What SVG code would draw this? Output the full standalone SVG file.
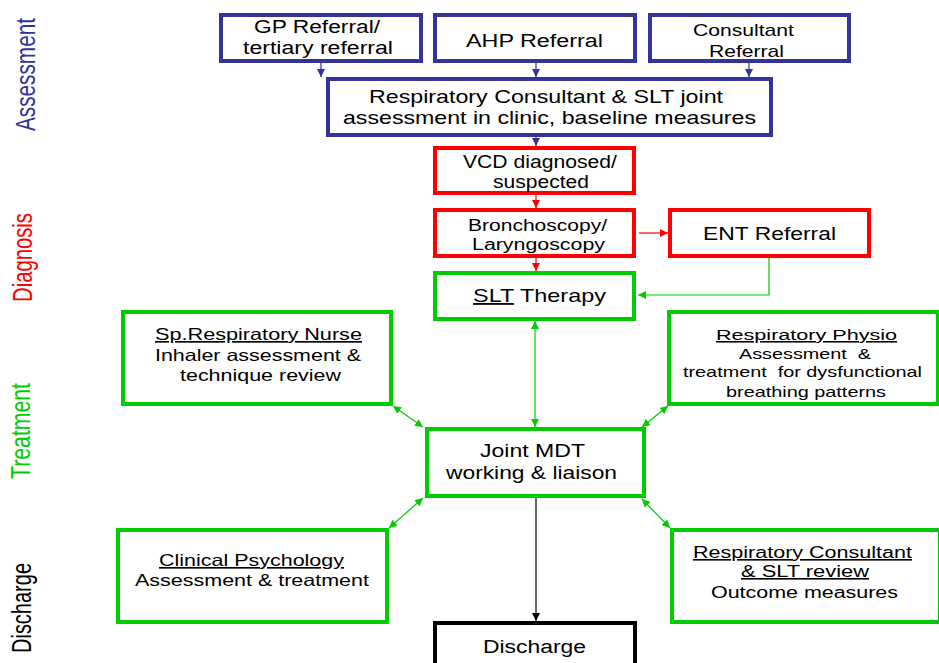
<svg xmlns="http://www.w3.org/2000/svg" width="939" height="663" viewBox="0 0 939 663">
<style>
text{font-family:"Liberation Sans",Arial,sans-serif;fill:#000;}
.b{fill:#fff;stroke-width:4;}
.blue{stroke:#333399;}
.red{stroke:#ff0000;}
.green{stroke:#00cc00;}
.black{stroke:#000;}
.c{fill:none;stroke-width:1.2;}
.u{text-decoration:underline;}
.side{font-size:21px;}
</style>
<defs>
<marker id="ab" markerUnits="userSpaceOnUse" markerWidth="8" markerHeight="8" refX="8" refY="4" orient="auto-start-reverse"><path d="M0,0 L8,4 L0,8 z" fill="#333399"/></marker>
<marker id="ar" markerUnits="userSpaceOnUse" markerWidth="8" markerHeight="8" refX="8" refY="4" orient="auto-start-reverse"><path d="M0,0 L8,4 L0,8 z" fill="#ff0000"/></marker>
<marker id="ag" markerUnits="userSpaceOnUse" markerWidth="8" markerHeight="8" refX="8" refY="4" orient="auto-start-reverse"><path d="M0,0 L8,4 L0,8 z" fill="#00cc00"/></marker>
<marker id="ak" markerUnits="userSpaceOnUse" markerWidth="8" markerHeight="8" refX="8" refY="4" orient="auto-start-reverse"><path d="M0,0 L8,4 L0,8 z" fill="#000"/></marker>
</defs>
<rect width="939" height="663" fill="#fff"/>

<g id="stage-labels">
<text class="side" fill="#333399" style="fill:#333399" transform="translate(35,131) scale(1.28,1) rotate(-90)" textLength="113" lengthAdjust="spacingAndGlyphs">Assessment</text>
<text class="side" style="fill:#ff0000" transform="translate(32,302) scale(1.28,1) rotate(-90)" textLength="89" lengthAdjust="spacingAndGlyphs">Diagnosis</text>
<text class="side" style="fill:#00cc00" transform="translate(30,479) scale(1.28,1) rotate(-90)" textLength="96" lengthAdjust="spacingAndGlyphs">Treatment</text>
<text class="side" transform="translate(31,653) scale(1.28,1) rotate(-90)" textLength="90" lengthAdjust="spacingAndGlyphs">Discharge</text>
</g>

<g id="connectors">
<line class="c blue" x1="321" y1="63" x2="321" y2="77" marker-end="url(#ab)"/>
<line class="c blue" x1="536" y1="63" x2="536" y2="77" marker-end="url(#ab)"/>
<line class="c blue" x1="749" y1="63" x2="749" y2="77" marker-end="url(#ab)"/>
<line class="c blue" x1="536" y1="137" x2="536" y2="146" marker-end="url(#ab)"/>
<line class="c red" x1="536" y1="195" x2="536" y2="208" marker-end="url(#ar)"/>
<line class="c red" x1="536" y1="258" x2="536" y2="271" marker-end="url(#ar)"/>
<line class="c red" x1="639" y1="233" x2="668" y2="233" marker-end="url(#ar)"/>
<polyline class="c green" points="769,258 769,295 638,295" marker-end="url(#ag)"/>
<line class="c green" x1="535" y1="321" x2="535" y2="427" marker-start="url(#ag)" marker-end="url(#ag)"/>
<line class="c green" x1="393" y1="406" x2="423" y2="427" marker-start="url(#ag)" marker-end="url(#ag)"/>
<line class="c green" x1="668" y1="406" x2="642" y2="427" marker-start="url(#ag)" marker-end="url(#ag)"/>
<line class="c green" x1="389" y1="528" x2="423" y2="498" marker-start="url(#ag)" marker-end="url(#ag)"/>
<line class="c green" x1="642" y1="499" x2="670" y2="528" marker-start="url(#ag)" marker-end="url(#ag)"/>
<line class="c black" x1="536" y1="498" x2="536" y2="621" marker-end="url(#ak)"/>
</g>

<g id="gp-referral">
<rect class="b blue" x="221" y="15" width="200" height="46"/>
<text x="254" y="33" font-size="18" textLength="126" lengthAdjust="spacingAndGlyphs">GP Referral/</text>
<text x="243" y="54" font-size="18" textLength="150" lengthAdjust="spacingAndGlyphs">tertiary referral</text>
</g>
<g id="ahp-referral">
<rect class="b blue" x="435" y="15" width="200" height="46"/>
<text x="466" y="47" font-size="18" textLength="137" lengthAdjust="spacingAndGlyphs">AHP Referral</text>
</g>
<g id="consultant-referral">
<rect class="b blue" x="650" y="15" width="199" height="46"/>
<text x="693" y="36" font-size="17" textLength="101" lengthAdjust="spacingAndGlyphs">Consultant</text>
<text x="709" y="57" font-size="17" textLength="75" lengthAdjust="spacingAndGlyphs">Referral</text>
</g>
<g id="joint-assessment">
<rect class="b blue" x="328" y="79" width="443" height="56"/>
<text x="369" y="103" font-size="18.5" textLength="354" lengthAdjust="spacingAndGlyphs">Respiratory Consultant &amp; SLT joint</text>
<text x="343" y="124" font-size="18.5" textLength="413" lengthAdjust="spacingAndGlyphs">assessment in clinic, baseline measures</text>
</g>
<g id="vcd">
<rect class="b red" x="435" y="148" width="199" height="45"/>
<text x="463" y="168" font-size="17.5" textLength="154" lengthAdjust="spacingAndGlyphs">VCD diagnosed/</text>
<text x="493" y="188" font-size="17.5" textLength="96" lengthAdjust="spacingAndGlyphs">suspected</text>
</g>
<g id="bronchoscopy">
<rect class="b red" x="435" y="210" width="199" height="46"/>
<text x="468" y="231" font-size="16" textLength="139" lengthAdjust="spacingAndGlyphs">Bronchoscopy/</text>
<text x="472" y="250" font-size="16" textLength="133" lengthAdjust="spacingAndGlyphs">Laryngoscopy</text>
</g>
<g id="ent-referral">
<rect class="b red" x="670" y="210" width="199" height="46"/>
<text x="703" y="240" font-size="17.5" textLength="133" lengthAdjust="spacingAndGlyphs">ENT Referral</text>
</g>
<g id="slt-therapy">
<rect class="b green" x="435" y="273" width="199" height="46"/>
<text x="473" y="302" font-size="18.5" textLength="133" lengthAdjust="spacingAndGlyphs"><tspan class="u">SLT</tspan> Therapy</text>
</g>
<g id="resp-nurse">
<rect class="b green" x="123" y="312" width="268" height="92"/>
<text class="u" x="155" y="340" font-size="16.5" textLength="207" lengthAdjust="spacingAndGlyphs">Sp.Respiratory Nurse</text>
<text x="155" y="361" font-size="16.5" textLength="206" lengthAdjust="spacingAndGlyphs">Inhaler assessment &amp;</text>
<text x="180" y="381" font-size="16.5" textLength="161" lengthAdjust="spacingAndGlyphs">technique review</text>
</g>
<g id="resp-physio">
<rect class="b green" x="669" y="312" width="269" height="92"/>
<text class="u" x="716" y="340" font-size="15.5" textLength="181" lengthAdjust="spacingAndGlyphs">Respiratory Physio</text>
<text x="739" y="359" font-size="15" xml:space="preserve" textLength="132" lengthAdjust="spacingAndGlyphs">Assessment  &amp;</text>
<text x="683" y="377" font-size="15" xml:space="preserve" textLength="239" lengthAdjust="spacingAndGlyphs">treatment  for dysfunctional</text>
<text x="726" y="397" font-size="15" textLength="160" lengthAdjust="spacingAndGlyphs">breathing patterns</text>
</g>
<g id="joint-mdt">
<rect class="b green" x="427" y="429" width="217" height="67"/>
<text x="480" y="457" font-size="17.5" textLength="105" lengthAdjust="spacingAndGlyphs">Joint MDT</text>
<text x="446" y="479" font-size="17.5" textLength="171" lengthAdjust="spacingAndGlyphs">working &amp; liaison</text>
</g>
<g id="clinical-psychology">
<rect class="b green" x="118" y="530" width="269" height="92"/>
<text class="u" x="159" y="566" font-size="16.5" textLength="185" lengthAdjust="spacingAndGlyphs">Clinical Psychology</text>
<text x="135" y="586" font-size="16.5" textLength="234" lengthAdjust="spacingAndGlyphs">Assessment &amp; treatment</text>
</g>
<g id="consultant-slt-review">
<rect class="b green" x="672" y="530" width="268" height="92"/>
<text class="u" x="693" y="558" font-size="16" textLength="219" lengthAdjust="spacingAndGlyphs">Respiratory Consultant</text>
<text class="u" x="741" y="577" font-size="16" textLength="128" lengthAdjust="spacingAndGlyphs">&amp; SLT review</text>
<text x="711" y="598" font-size="16" textLength="187" lengthAdjust="spacingAndGlyphs">Outcome measures</text>
</g>
<g id="discharge">
<rect class="b black" x="435" y="623" width="200" height="60"/>
<text x="483" y="653" font-size="18" textLength="103" lengthAdjust="spacingAndGlyphs">Discharge</text>
</g>
</svg>
